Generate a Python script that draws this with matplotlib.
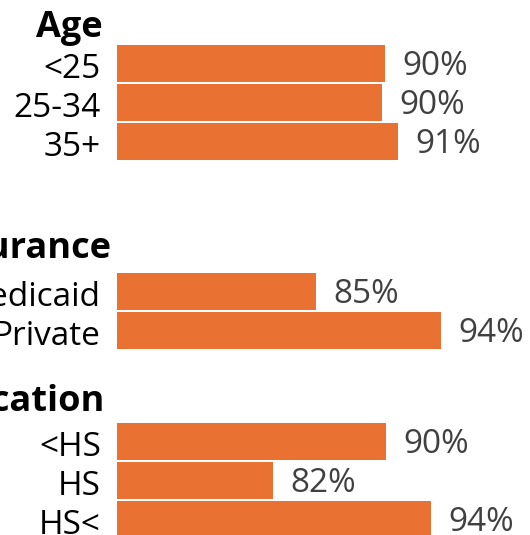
import matplotlib.pyplot as plt

plt.rcParams['font.family'] = ['Open Sans', 'DejaVu Sans']

groups = ["Age", "Insurance", "Education"]
categories = [["<25", "25-34", "35+"], ["Medicaid", "Private"], ["<HS", "HS", "HS<"]]
values = [[90.0, 89.8, 90.9], [85.1, 94.0], [90.1, 82.0, 93.3]]
value_labels = [["90%", "90%", "91%"], ["85%", "94%"], ["90%", "82%", "94%"]]

W, H = 530, 535
fig = plt.figure(figsize=(W / 100, H / 100), dpi=100)

bar_color = "#E97132"
row_px = 39
x_left_px = 117
x_min, px_per_pct = 70.86, 14.0
group_top_px = [44, 272, 422]
header_pos_px = [(103, 37), (112, 258), (105, 411)]

for g, name in enumerate(groups):
    n = len(categories[g])
    top = group_top_px[g]
    ax = fig.add_axes([x_left_px / W, 1 - (top + n * row_px) / H,
                       1 - x_left_px / W, n * row_px / H])
    ypos = list(range(n))
    ax.barh(ypos, values[g], height=0.96, color=bar_color)
    ax.set_xlim(x_min, x_min + (W - x_left_px) / px_per_pct)
    ax.set_ylim(n - 0.5, -0.5)
    ax.set_xticks([])
    ax.set_yticks([])
    for s in ax.spines.values():
        s.set_visible(False)
    ax.patch.set_visible(False)
    # category names left of the bars, value labels right of them
    for y, v, cat, lab in zip(ypos, values[g], categories[g], value_labels[g]):
        ax.annotate(cat, (0, y), xycoords=('axes fraction', 'data'),
                    xytext=(-11.5, -4), textcoords='offset points',
                    ha='right', va='center', fontsize=24, color='black',
                    annotation_clip=False)
        ax.annotate(lab, (v, y), xytext=(12.5, -2.5), textcoords='offset points',
                    ha='left', va='center', fontsize=24, color='#404040',
                    annotation_clip=False)
    hx, hy = header_pos_px[g]
    fig.text(hx / W, 1 - hy / H, name, ha='right', va='baseline',
             fontsize=26, fontweight='bold', color='black')

fig.savefig('out.png', dpi=100)
